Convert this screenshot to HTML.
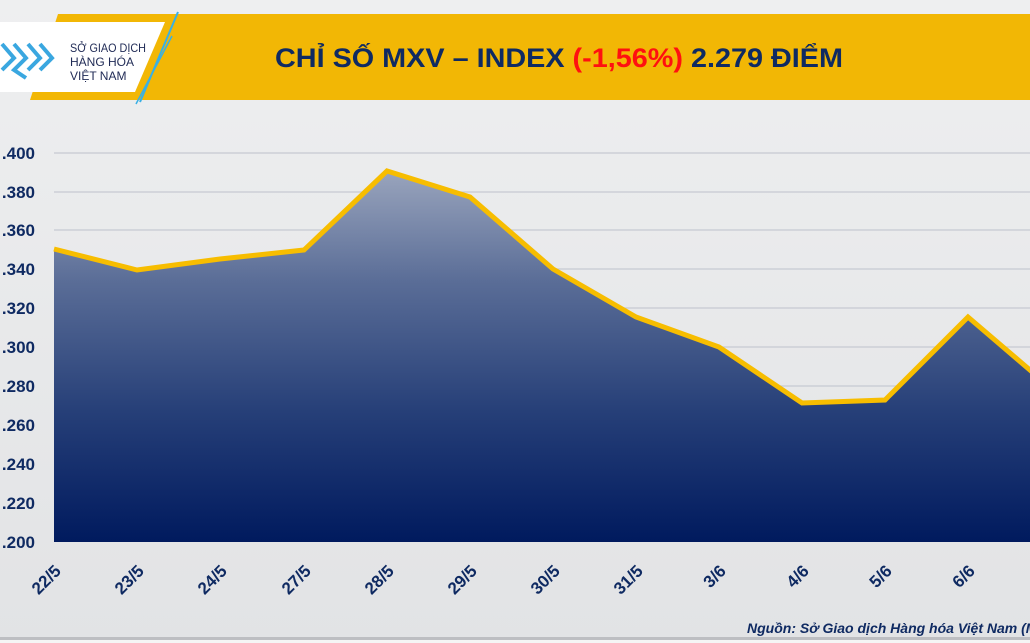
<!DOCTYPE html>
<html><head><meta charset="utf-8"><style>
html,body{margin:0;padding:0;width:1030px;height:643px;overflow:hidden;background:#e7e8ea}
</style></head><body>
<svg width="1030" height="643" xmlns="http://www.w3.org/2000/svg" font-family="Liberation Sans, DejaVu Sans, sans-serif">
<defs>
<linearGradient id="bg" x1="0" y1="0" x2="0" y2="1"><stop offset="0" stop-color="#eeeff0"/><stop offset="1" stop-color="#e2e3e5"/></linearGradient>
<linearGradient id="ar" gradientUnits="userSpaceOnUse" x1="0" y1="170" x2="0" y2="542"><stop offset="0" stop-color="#9aa5bd"/><stop offset="0.3" stop-color="#5a6d97"/><stop offset="0.65" stop-color="#263f78"/><stop offset="1" stop-color="#001a5e"/></linearGradient>
</defs>
<rect width="1030" height="643" fill="url(#bg)"/>
<polygon points="58,14 1030,14 1030,100 30,100" fill="#f2b705"/>
<polygon points="0,22 165,22 135,92 0,92" fill="#ffffff"/>
<line x1="178" y1="12" x2="140" y2="102" stroke="#39b0e5" stroke-width="2"/>
<line x1="172" y1="36" x2="136" y2="104" stroke="#39b0e5" stroke-width="1.5"/>
<g fill="none" stroke="#3aa7e0" stroke-width="4">
<polyline points="2,44 14,58 2,70"/><polyline points="14,44 26,58 14,70 26,78"/><polyline points="28,44 40,58 28,70"/><polyline points="40,44 52,58 40,70"/>
</g>
<text x="70" y="52" font-size="12" fill="#1f2a55" textLength="76" lengthAdjust="spacingAndGlyphs">SỞ GIAO DỊCH</text>
<text x="70" y="66" font-size="12" fill="#1f2a55">HÀNG HÓA</text>
<text x="70" y="80" font-size="12" fill="#1f2a55">VIỆT NAM</text>
<text x="275" y="67" font-size="27" font-weight="bold" fill="#0f2a62" textLength="568" lengthAdjust="spacingAndGlyphs">CHỈ SỐ MXV – INDEX <tspan fill="#ff1010">(-1,56%)</tspan> 2.279 ĐIỂM</text>
<g stroke="#c6c9d2" stroke-width="1.2">
<line x1="54" y1="153" x2="1030" y2="153"/><line x1="54" y1="192" x2="1030" y2="192"/><line x1="54" y1="230" x2="1030" y2="230"/><line x1="54" y1="269" x2="1030" y2="269"/><line x1="54" y1="308" x2="1030" y2="308"/><line x1="54" y1="347" x2="1030" y2="347"/><line x1="54" y1="386" x2="1030" y2="386"/><line x1="54" y1="425" x2="1030" y2="425"/><line x1="54" y1="464" x2="1030" y2="464"/><line x1="54" y1="503" x2="1030" y2="503"/>
</g>
<polygon points="54,249 137,270 220,259 304,250 387,171 470,197 553,269 636,317 719,347 802,403 885,400 968,317 1051,388 1051,542 54,542" fill="url(#ar)"/>
<polyline points="54,249 137,270 220,259 304,250 387,171 470,197 553,269 636,317 719,347 802,403 885,400 968,317 1051,388" fill="none" stroke="#f7bd00" stroke-width="5" stroke-linejoin="miter"/>
<g font-size="17" font-weight="bold" fill="#0f2a62" text-anchor="end">
<text x="35" y="159">.400</text><text x="35" y="198">.380</text><text x="35" y="236">.360</text><text x="35" y="275">.340</text><text x="35" y="314">.320</text><text x="35" y="353">.300</text><text x="35" y="392">.280</text><text x="35" y="431">.260</text><text x="35" y="470">.240</text><text x="35" y="509">.220</text><text x="35" y="548">.200</text>
</g>
<g font-size="17" font-weight="bold" fill="#0f2a62" text-anchor="end">
<text transform="translate(62,572) rotate(-45)">22/5</text>
<text transform="translate(145,572) rotate(-45)">23/5</text>
<text transform="translate(228,572) rotate(-45)">24/5</text>
<text transform="translate(312,572) rotate(-45)">27/5</text>
<text transform="translate(395,572) rotate(-45)">28/5</text>
<text transform="translate(478,572) rotate(-45)">29/5</text>
<text transform="translate(561,572) rotate(-45)">30/5</text>
<text transform="translate(644,572) rotate(-45)">31/5</text>
<text transform="translate(727,572) rotate(-45)">3/6</text>
<text transform="translate(810,572) rotate(-45)">4/6</text>
<text transform="translate(893,572) rotate(-45)">5/6</text>
<text transform="translate(976,572) rotate(-45)">6/6</text>
<text transform="translate(1059,572) rotate(-45)">7/6</text>
</g>
<text x="747" y="633" font-size="14" font-weight="bold" font-style="italic" fill="#0f2a62">Nguồn: Sở Giao dịch Hàng hóa Việt Nam (MXV)</text>
<rect x="0" y="637" width="1030" height="3" fill="#bdbec2"/>
<rect x="0" y="640" width="1030" height="3" fill="#f5f5f5"/>
</svg>
</body></html>
